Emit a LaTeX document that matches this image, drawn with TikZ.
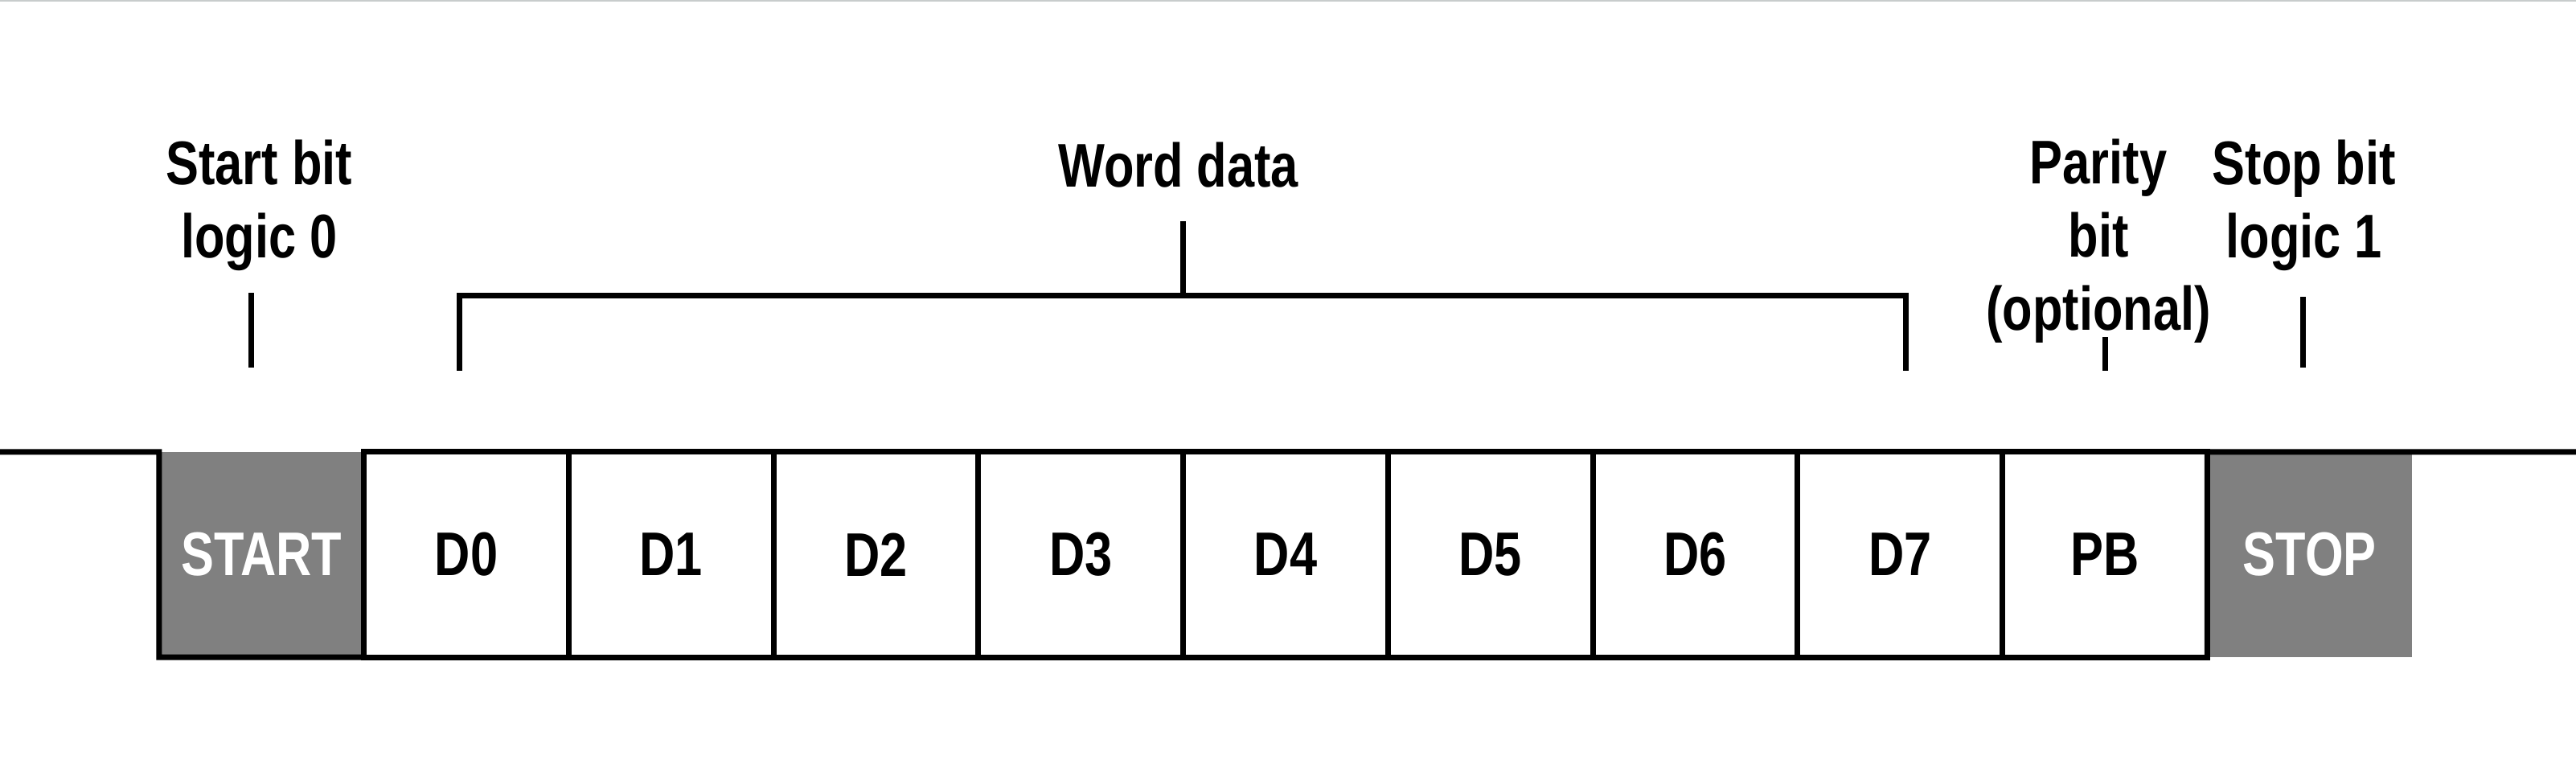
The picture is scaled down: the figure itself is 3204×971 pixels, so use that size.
\documentclass[tikz,border=0pt]{standalone}
\usepackage{fontspec}
\setmainfont{Liberation Sans}[FakeStretch=0.8]
\usetikzlibrary{positioning}
\definecolor{bitgray}{HTML}{808080}
\definecolor{edgegray}{HTML}{C8CCCC}

\begin{document}
\begin{tikzpicture}[x=0.01cm,y=0.01cm,line width=0.07cm,
  font=\fontsize{21.8pt}{25.9pt}\selectfont\bfseries]
\tikzstyle{bitbox}=[rectangle,minimum width=2.546cm,minimum height=2.55cm,inner sep=0pt,outer sep=0pt]
\tikzstyle{databox}=[bitbox,draw]
\tikzstyle{markbox}=[bitbox,fill=bitgray,text=white]
\tikzstyle{lbl}=[align=center,anchor=base,inner sep=0pt]

\useasboundingbox (0,0) rectangle (3204,971);
\draw[edgegray,line width=0.04cm] (0,971) -- (3204,971);

%--- frame ---
\node[markbox] (start) at (325.3,281.5) {START};
\node[databox] (d0) [right=0pt of start] {D0};
\foreach \i [evaluate=\i as \p using int(\i-1)] in {1,...,7}
  \node[databox] (d\i) [right=0pt of d\p] {D\i};
\node[databox] (pb) [right=0pt of d7] {PB};
\node[markbox] (stop) [right=0pt of pb] {STOP};

%--- signal line ---
\coordinate (idlein) at (0,409);
\coordinate (idleout) at (3204,409);
\draw (idlein) -- (start.north west) -- (start.south west) -- (start.south east);
\draw (pb.south east) -- (stop.north west) -- (idleout);

%--- labels (base = last line) ---
\node[lbl] (startlbl) at ([xshift=-0.03cm,yshift=2.41cm]start.north) {Start bit\\logic 0};
\node[lbl] (wordlbl) at ([xshift=-0.06cm,yshift=3.29cm]d3.north east) {Word data};
\node[lbl] (paritylbl) at ([xshift=-0.08cm,yshift=1.51cm]pb.north) {Parity\\bit\\(optional)};
\node[lbl] (stoplbl) at ([xshift=-0.07cm,yshift=2.41cm]stop.north) {Stop bit\\logic 1};

%--- ticks ---
\draw ([xshift=-0.13cm,yshift=1.05cm]start.north) -- ++(0,93);
\draw ([xshift=-0.09cm,yshift=1.01cm]d0.north) |- ([xshift=0.07cm,yshift=1.94cm]d7.north)
  -- ([xshift=0.07cm,yshift=1.01cm]d7.north);
\draw ([yshift=1.94cm]d3.north east) -- ++(0,93);
\draw ([yshift=1.01cm]pb.north) -- ++(0,42);
\draw ([xshift=-0.08cm,yshift=1.05cm]stop.north) -- ++(0,88);

\end{tikzpicture}
\end{document}
